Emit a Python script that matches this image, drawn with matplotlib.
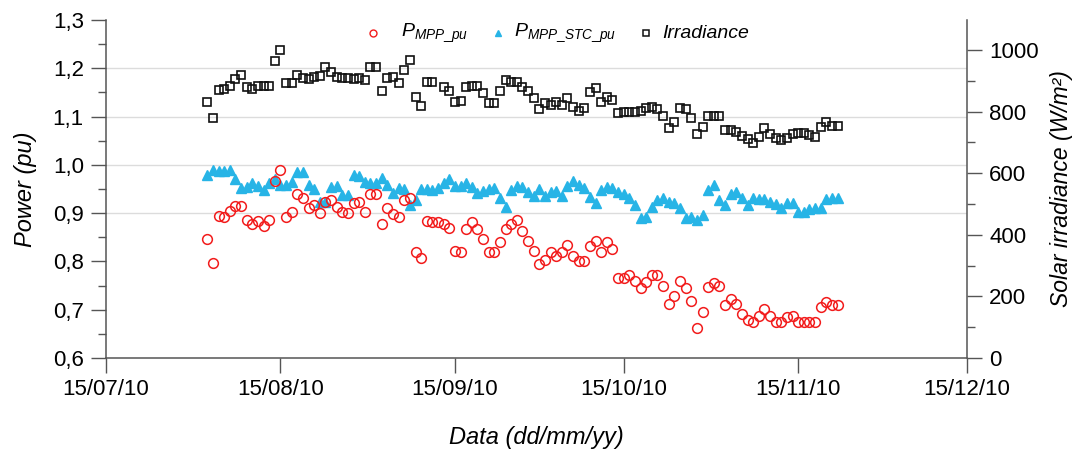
import matplotlib
matplotlib.use("Agg")
import matplotlib.pyplot as plt
import matplotlib.dates as mdates
from matplotlib.ticker import MultipleLocator, FuncFormatter
from matplotlib.lines import Line2D
import numpy as np
import pandas as pd

plt.rcParams['font.family'] = ['Liberation Sans', 'DejaVu Sans']
plt.rcParams['mathtext.fontset'] = 'custom'
plt.rcParams['mathtext.it'] = 'Liberation Sans:italic'
plt.rcParams['mathtext.rm'] = 'Liberation Sans'

# ---- data (daily, 02/08/2010 .. 22/11/2010) ----
dates = pd.date_range('2010-08-02', '2010-11-22', freq='D')

p_mpp_pu = [
    0.846, 0.796, 0.895, 0.891, 0.904, 0.915, 0.915, 0.886, 0.877, 0.884,
    0.874, 0.886, 0.967, 0.989, 0.891, 0.903, 0.939, 0.931, 0.910, 0.917,
    0.900, 0.924, 0.927, 0.913, 0.903, 0.900, 0.920, 0.924, 0.903, 0.939,
    0.939, 0.877, 0.910, 0.898, 0.891, 0.927, 0.932, 0.820, 0.808, 0.884,
    0.881, 0.881, 0.877, 0.870, 0.822, 0.819, 0.867, 0.881, 0.867, 0.846,
    0.819, 0.819, 0.840, 0.867, 0.877, 0.886, 0.862, 0.842, 0.822, 0.794,
    0.803, 0.819, 0.812, 0.819, 0.833, 0.812, 0.800, 0.800, 0.831, 0.842,
    0.819, 0.840, 0.826, 0.766, 0.766, 0.772, 0.759, 0.746, 0.757, 0.771,
    0.771, 0.750, 0.711, 0.729, 0.759, 0.746, 0.718, 0.663, 0.695, 0.748,
    0.755, 0.750, 0.709, 0.722, 0.711, 0.691, 0.679, 0.674, 0.688, 0.702,
    0.688, 0.674, 0.674, 0.684, 0.688, 0.674, 0.674, 0.674, 0.674, 0.706,
    0.717, 0.709, 0.709,
]

p_mpp_stc_pu = [
    0.980, 0.989, 0.987, 0.987, 0.989, 0.971, 0.953, 0.955, 0.962, 0.957,
    0.948, 0.962, 0.971, 0.958, 0.958, 0.965, 0.986, 0.985, 0.958, 0.951,
    0.924, 0.924, 0.955, 0.957, 0.938, 0.938, 0.979, 0.976, 0.965, 0.962,
    0.962, 0.972, 0.958, 0.941, 0.953, 0.951, 0.917, 0.927, 0.950, 0.950,
    0.948, 0.953, 0.962, 0.971, 0.957, 0.957, 0.962, 0.955, 0.941, 0.945,
    0.950, 0.953, 0.931, 0.913, 0.948, 0.957, 0.955, 0.944, 0.936, 0.950,
    0.936, 0.944, 0.946, 0.936, 0.957, 0.967, 0.958, 0.953, 0.934, 0.920,
    0.948, 0.955, 0.953, 0.944, 0.939, 0.932, 0.916, 0.889, 0.893, 0.913,
    0.927, 0.931, 0.924, 0.920, 0.911, 0.889, 0.891, 0.886, 0.896, 0.948,
    0.958, 0.927, 0.916, 0.939, 0.943, 0.932, 0.917, 0.931, 0.929, 0.929,
    0.924, 0.918, 0.911, 0.920, 0.920, 0.902, 0.902, 0.909, 0.911, 0.911,
    0.929, 0.931, 0.931,
]

irradiance = [
    830, 778, 870, 872, 884, 906, 917, 881, 873, 884,
    884, 884, 965, 1000, 894, 894, 919, 910, 906, 913,
    915, 944, 927, 911, 910, 910, 905, 908, 903, 943,
    943, 865, 908, 913, 892, 935, 968, 846, 819, 897,
    895, np.nan, 878, 867, 832, 835, 878, 884, 884, 860,
    829, 829, 865, 903, 897, 897, 881, 865, 845, 808,
    827, 821, 832, 821, 843, 816, 802, 813, 862, 876,
    832, 848, 838, 794, 800, 800, 800, 802, 813, 816,
    808, 784, 746, 765, 813, 808, 778, 727, 751, 784,
    784, 786, 740, 740, 732, 722, 711, 697, 718, 746,
    726, 715, 708, 715, 726, 730, 730, 724, 718, 751,
    765, 754, 754,
]

x_ticks = pd.to_datetime(['2010-07-15', '2010-08-15', '2010-09-15',
                          '2010-10-15', '2010-11-15', '2010-12-15'])
grid_levels = [0.9, 1.0, 1.1, 1.2]
legend_labels = [r'$P_{MPP\_pu}$', r'$P_{MPP\_STC\_pu}$', 'Irradiance']

# ---- figure ----
W, H = 1078, 455
fig = plt.figure(figsize=(W / 100, H / 100), dpi=100)
ax = fig.add_axes([106 / W, 1 - 358 / H, (967 - 106) / W, (358 - 20) / H])
ax2 = ax.twinx()

spine_col = '#555555'
for a in (ax, ax2):
    a.spines['top'].set_visible(False)
    for s in a.spines.values():
        s.set_color(spine_col)
        s.set_linewidth(1.1)
ax.spines['right'].set_visible(False)
ax2.spines['left'].set_visible(False)
ax2.spines['bottom'].set_visible(False)

for g in grid_levels:
    ax.axhline(g, color='#dcdcdc', lw=1.0, zorder=0)

red = '#f21c1c'
cyan = '#27b4e6'
black = '#111111'
ax.plot(dates, p_mpp_stc_pu, ls='none', marker='^', ms=6.5, color=cyan,
        mec=cyan, zorder=2)
ax.plot(dates, p_mpp_pu, ls='none', marker='o', ms=7, mfc='none', mec=red,
        mew=1.1, zorder=3)
ax2.plot(dates, irradiance, ls='none', marker='s', ms=6, mfc='none', mec=black,
         mew=1.2, zorder=3)

ax.set_xlim(pd.Timestamp('2010-07-15'), pd.Timestamp('2010-12-15'))
ax.set_xticks(x_ticks)
ax.xaxis.set_major_formatter(mdates.DateFormatter('%d/%m/%y'))

ax.set_ylim(0.6, 1.3)
ax.yaxis.set_major_locator(MultipleLocator(0.1))
ax.yaxis.set_minor_locator(MultipleLocator(0.05))
ax.yaxis.set_major_formatter(FuncFormatter(lambda v, p: f'{v:.1f}'.replace('.', ',')))

ax2.set_ylim(0, 1097)
ax2.yaxis.set_major_locator(MultipleLocator(200))
ax2.yaxis.set_minor_locator(MultipleLocator(100))

for a in (ax, ax2):
    a.tick_params(axis='both', which='major', length=11, width=1.0, color=spine_col,
                  labelsize=16, direction='out', pad=5)
    a.tick_params(axis='both', which='minor', length=6, width=1.0, color=spine_col,
                  direction='out')
ax.tick_params(axis='x', which='minor', length=0)
ax.tick_params(axis='x', which='major', pad=4)

ax.set_xlabel('Data (dd/mm/yy)', fontsize=17, style='italic', labelpad=19)
ax.set_ylabel('Power (pu)', fontsize=17, style='italic', labelpad=11)
ax2.set_ylabel('Solar irradiance (W/m\u00b2)', fontsize=16.5, style='italic', labelpad=8)

# ---- legend (top centre, no frame) ----
def fx(px):
    return px / W

def fy(py):
    return 1 - py / H

leg_y = 33
markers = [
    dict(marker='o', ms=5, mfc='none', mec=red, mew=1.0),
    dict(marker='^', ms=5, mfc=cyan, mec=cyan),
    dict(marker='s', ms=5, mfc='none', mec=black, mew=1.1),
]
marker_x = [373, 498, 646]
text_x = [401, 514, 662]
for mx, tx, mk, lab in zip(marker_x, text_x, markers, legend_labels):
    fig.add_artist(Line2D([fx(mx)], [fy(leg_y)], ls='none', transform=fig.transFigure, **mk))
    fig.text(fx(tx), fy(leg_y), lab, fontsize=14, style='italic', ha='left', va='center')

fig.savefig('out.png', dpi=100)
